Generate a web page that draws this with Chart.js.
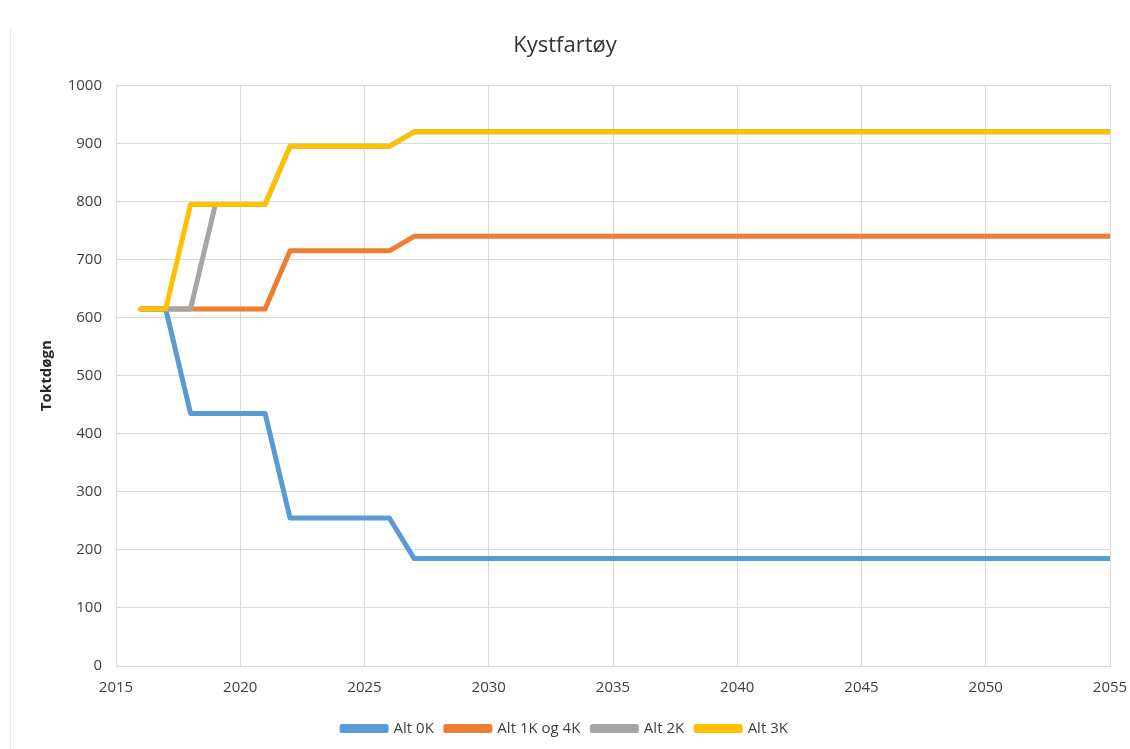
<!DOCTYPE html>
<html>
<head>
<meta charset="utf-8">
<script src="https://cdn.jsdelivr.net/npm/chart.js@4/dist/chart.umd.min.js"></script>
<style>
  html, body { margin: 0; padding: 0; background: #fff; }
  #wrap { position: relative; width: 1130px; height: 749px; }
  #frame { position: absolute; left: 10px; top: 28px; width: 1px; height: 721px; background: #ececec; }
</style>
</head>
<body>
<div id="wrap">
  <div id="frame"></div>
  <canvas id="chart" width="1130" height="749"></canvas>
</div>
<script>
// år 2016-2055
const years = [2016, 2017, 2018, 2019, 2020, 2021, 2022, 2023, 2024, 2025,
  2026, 2027, 2028, 2029, 2030, 2031, 2032, 2033, 2034, 2035,
  2036, 2037, 2038, 2039, 2040, 2041, 2042, 2043, 2044, 2045,
  2046, 2047, 2048, 2049, 2050, 2051, 2052, 2053, 2054, 2055]

const alt0K = [615, 615, 435, 435, 435, 435, 255, 255, 255, 255,
  255, 185, 185, 185, 185, 185, 185, 185, 185, 185,
  185, 185, 185, 185, 185, 185, 185, 185, 185, 185,
  185, 185, 185, 185, 185, 185, 185, 185, 185, 185]

const alt1K4K = [615, 615, 615, 615, 615, 615, 715, 715, 715, 715,
  715, 740, 740, 740, 740, 740, 740, 740, 740, 740,
  740, 740, 740, 740, 740, 740, 740, 740, 740, 740,
  740, 740, 740, 740, 740, 740, 740, 740, 740, 740]

const alt2K = [615, 615, 615, 795, 795, 795, 895, 895, 895, 895,
  895, 920, 920, 920, 920, 920, 920, 920, 920, 920,
  920, 920, 920, 920, 920, 920, 920, 920, 920, 920,
  920, 920, 920, 920, 920, 920, 920, 920, 920, 920]

const alt3K = [615, 615, 795, 795, 795, 795, 895, 895, 895, 895,
  895, 920, 920, 920, 920, 920, 920, 920, 920, 920,
  920, 920, 920, 920, 920, 920, 920, 920, 920, 920,
  920, 920, 920, 920, 920, 920, 920, 920, 920, 920]

const toPoints = (vals) => vals.map((v, i) => ({ x: years[i], y: v }))

const font = "Open Sans, Liberation Sans, sans-serif"

function line(label, vals, color) {
  return {
    label: label,
    data: toPoints(vals),
    borderColor: color,
    backgroundColor: color,
    borderWidth: 5,
    pointRadius: 0,
    borderJoinStyle: "round",
    borderCapStyle: "round",
    tension: 0,
  }
}

// første datasett tegnes øverst, derfor omvendt rekkefølge + reverse i legend
new Chart(document.getElementById("chart"), {
  type: "line",
  data: {
    datasets: [
      line("Alt 3K", alt3K, "#FFC000"),
      line("Alt 2K", alt2K, "#A5A5A5"),
      line("Alt 1K og 4K", alt1K4K, "#ED7D31"),
      line("Alt 0K", alt0K, "#5B9BD5"),
    ],
  },
  options: {
    responsive: false,
    animation: false,
    layout: { padding: { left: 0, right: 0, top: 0, bottom: 3 } },
    plugins: {
      title: {
        display: true,
        text: "Kystfartøy",
        color: "#333333",
        font: { family: font, size: 22, weight: "normal" },
        padding: { top: 33, bottom: 26 },
      },
      legend: {
        position: "bottom",
        reverse: true,
        labels: {
          color: "#404040",
          font: { family: font, size: 15 },
          boxWidth: 44,
          boxHeight: 4,
          padding: 12,
        },
      },
      tooltip: { enabled: false },
    },
    scales: {
      x: {
        type: "linear",
        min: 2015,
        max: 2055,
        grid: { color: "#d9d9d9", drawTicks: false },
        border: { color: "#d9d9d9" },
        ticks: {
          stepSize: 5,
          padding: 13,
          color: "#404040",
          font: { family: font, size: 15 },
          callback: (v) => String(v),
          maxRotation: 0,
        },
        afterFit: (scale) => {
          scale.height = 43
          scale.paddingRight = 20
          scale.paddingLeft = 0
        },
      },
      y: {
        min: 0,
        max: 1000,
        grid: { color: "#d9d9d9", drawTicks: false },
        border: { color: "#d9d9d9" },
        ticks: {
          stepSize: 100,
          padding: 14,
          color: "#404040",
          font: { family: font, size: 15 },
          callback: (v) => String(v),
        },
        title: {
          display: true,
          text: "Toktdøgn",
          color: "#262626",
          font: { family: font, size: 15, weight: "bold" },
          padding: { top: 38, bottom: 0 },
        },
        afterFit: (scale) => { scale.width = 116 },
      },
    },
  },
})
</script>
</body>
</html>
